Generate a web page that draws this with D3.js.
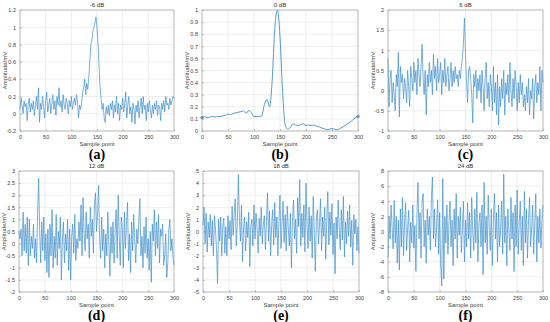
<!DOCTYPE html>
<html>
<head>
<meta charset="utf-8">
<script src="https://cdn.jsdelivr.net/npm/d3@7"></script>
<style>
  body { margin: 0; background: #fff; }
  svg { display: block; }
</style>
</head>
<body>
<script>
// sample points: every 2nd sample for the noisy traces, every 5th for the smooth one
var noisyX = d3.range(0, 301, 2);
var smoothX = d3.range(0, 301, 5);

var xTicks = [0, 50, 100, 150, 200, 250, 300];

// -6 dB
var valsA = [
  0.05,0.18,0.1,0.0,0.15,0.08,0.12,-0.08,0.1,0.18,
  0.02,0.12,0.05,0.15,-0.02,0.1,0.2,0.05,0.3,-0.1,
  0.12,0.05,0.2,0.08,-0.05,0.15,0.25,0.02,0.1,0.18,
  0.0,0.12,0.22,0.05,0.15,-0.02,0.2,0.1,0.3,0.08,
  0.15,0.02,0.22,0.1,0.05,0.18,0.12,0.0,0.15,0.08,
  0.2,0.05,0.12,0.18,0.1,0.22,0.15,-0.05,0.1,0.05,
  0.12,0.25,0.3,0.4,0.22,0.35,0.28,0.42,0.6,0.8,
  0.85,0.95,1.0,1.05,1.12,1.0,0.82,0.55,0.3,0.18,
  0.05,0.12,-0.05,-0.1,0.08,0.0,0.1,-0.02,0.12,0.05,
  0.15,-0.05,0.1,0.02,0.2,0.0,0.12,-0.08,0.1,0.05,
  0.18,0.02,0.12,0.25,-0.05,0.1,0.2,0.0,0.08,-0.1,
  0.12,0.05,-0.12,0.1,0.02,0.15,-0.05,0.08,0.18,0.0,
  0.2,0.05,0.1,-0.08,0.12,0.02,0.15,0.05,-0.05,0.1,
  0.0,0.12,0.05,0.15,-0.02,0.1,0.08,-0.08,0.12,0.05,
  0.15,0.02,0.2,0.1,0.12,0.05,0.18,0.1,0.15,0.2,
  0.18
];
var yTicksA = [-0.2, 0, 0.2, 0.4, 0.6, 0.8, 1, 1.2];

// 0 dB
var valsB = [
  0.11,0.12,0.11,0.115,0.12,0.115,0.12,0.12,0.125,0.13,
  0.14,0.135,0.145,0.15,0.155,0.16,0.165,0.145,0.17,0.15,
  0.12,0.12,0.12,0.125,0.22,0.26,0.2,0.42,0.85,1.0,
  0.78,0.32,0.05,0.015,0.03,0.06,0.05,0.045,0.055,0.06,
  0.045,0.05,0.045,0.05,0.04,0.035,0.025,0.02,0.01,0.015,
  0.02,0.015,0.01,0.02,0.03,0.045,0.06,0.075,0.09,0.11,
  0.12
];
var yTicksB = [0, 0.1, 0.2, 0.3, 0.4, 0.5, 0.6, 0.7, 0.8, 0.9, 1];

// 6 dB
var valsC = [
  0.8,-0.4,0.3,0.5,-0.3,0.2,-0.1,-0.5,0.4,0.1,
  0.95,-0.65,0.6,0.2,0.4,-0.2,0.3,0.1,-0.3,0.5,
  0.1,-0.4,0.6,0.3,0.0,0.7,0.2,0.5,-0.1,0.8,
  0.4,0.1,0.6,1.15,0.3,-0.1,0.5,-0.6,0.4,0.1,
  0.7,0.2,0.5,-0.1,0.9,0.3,0.6,0.0,0.8,0.2,
  0.4,0.7,-0.1,0.5,0.2,0.8,0.1,0.4,0.6,0.0,
  0.3,0.7,0.1,0.5,0.2,0.6,0.3,0.4,0.1,0.5,
  0.3,0.6,0.8,1.2,1.8,0.9,0.2,-0.3,0.5,0.6,
  0.3,-0.1,-0.8,0.4,0.1,0.5,-0.2,0.3,0.0,0.4,
  -0.3,0.5,0.1,-0.5,0.3,0.7,-0.2,0.2,-0.4,0.4,
  0.1,-0.5,0.6,-0.3,0.2,-0.6,0.4,-0.85,0.1,-0.4,
  0.3,-0.2,0.5,-0.6,0.2,-0.1,0.4,-0.3,0.7,0.0,
  -0.4,0.3,-0.2,0.5,0.1,-0.5,0.2,-0.3,0.4,-0.1,
  0.2,-0.4,-0.1,-0.5,0.1,-0.3,0.3,-0.6,0.0,-0.2,
  0.3,-0.7,0.1,0.4,-0.3,0.2,-0.1,0.6,-0.5,0.5,
  0.2
];
var yTicksC = [-1, -0.5, 0, 0.5, 1, 1.5, 2];

// 12 dB
var valsD = [
  0.5,0.2,0.6,-0.5,1.3,-0.3,0.8,-0.4,1.1,-0.9,
  1.0,-0.5,0.3,-0.2,0.8,-0.6,0.2,-0.8,1.2,2.7,
  0.5,-0.8,0.9,-0.3,1.1,-0.7,0.4,-1.2,0.6,-1.4,
  0.8,-0.5,1.4,-1.0,0.3,-0.6,1.2,-0.9,0.5,-0.2,
  1.1,-1.5,0.2,0.9,-0.8,0.4,-0.3,1.0,-1.1,0.6,
  -1.5,0.3,0.8,-0.4,1.2,-0.7,0.2,-0.2,0.9,0.1,
  1.6,-0.5,1.9,0.4,-0.3,1.3,0.2,0.8,-0.6,1.5,
  0.3,1.0,-0.4,1.6,2.1,0.5,1.2,2.4,0.2,-0.6,
  1.1,-0.3,0.6,-1.0,0.4,-0.5,1.3,0.0,-1.35,0.7,
  -0.4,0.9,-0.8,0.5,1.4,-0.6,2.0,0.3,-0.9,1.1,
  0.6,-1.0,1.3,-0.2,0.8,1.7,-0.7,0.4,-1.2,0.9,
  -0.3,1.2,0.2,-0.8,0.6,0.0,1.0,1.85,-0.5,0.3,
  -1.0,0.7,-0.4,1.1,-0.6,0.2,-1.1,0.5,-1.6,0.8,
  0.1,1.4,-0.5,0.9,-0.2,1.2,-0.8,0.6,0.3,0.8,
  -0.9,-0.5,0.4,-1.4,-0.8,0.6,1.0,-0.3,0.2,-0.5,
  -0.9
];
var yTicksD = [-2, -1.5, -1, -0.5, 0, 0.5, 1, 1.5, 2, 2.5, 3];

// 18 dB
var valsE = [
  0.5,2.0,-1.0,1.5,-1.7,0.8,-0.5,1.4,-1.2,0.9,
  -2.0,1.3,0.2,-1.5,-4.3,1.0,-0.8,1.2,-2.0,0.5,
  1.1,-1.8,0.4,-2.0,1.3,-0.6,0.9,-1.5,2.1,-0.3,
  1.4,2.7,-1.2,0.6,4.7,1.0,-0.8,2.2,-2.5,0.3,
  1.2,-1.6,0.8,-0.5,1.6,-2.9,0.4,1.0,-1.2,2.2,
  -0.6,1.5,0.2,-1.8,1.1,-0.4,2.0,-1.0,0.6,1.3,
  -1.5,0.9,3.2,-0.8,1.7,-2.0,0.5,1.8,-1.1,2.4,
  -0.5,1.2,-2.0,0.8,3.0,-1.4,0.6,2.5,-0.9,1.4,
  -1.6,2.1,0.3,-1.2,1.5,-3.0,0.8,2.6,-0.6,1.0,
  -1.8,2.8,0.4,4.3,-1.2,1.5,-0.5,2.2,-1.7,4.0,
  0.6,-1.4,2.0,-0.8,1.3,-2.2,2.9,0.1,-3.3,1.1,
  1.8,-1.0,0.5,2.7,-1.6,1.2,-0.4,2.0,-2.3,0.9,
  3.3,-1.1,1.6,-0.3,2.3,-1.9,0.7,-3.5,1.2,-0.6,
  2.6,0.2,-1.5,1.8,-0.7,2.9,-2.1,0.8,-1.0,1.7,
  -0.4,2.2,-1.3,0.9,-2.8,1.4,-0.2,1.0,-1.6,0.4,
  -1.8
];
var yTicksE = [-5, -4, -3, -2, -1, 0, 1, 2, 3, 4, 5];

// 24 dB
var valsF = [
  -3.5,2.0,-1.0,3.5,0.5,-2.3,4.1,-1.5,2.0,-4.2,
  1.5,-5.1,3.0,-2.0,4.5,-3.2,1.0,3.8,-2.5,0.5,
  2.8,-4.0,1.2,-1.5,3.5,-2.2,0.8,-5.3,2.0,6.5,
  -1.0,2.5,-3.5,4.0,5.0,-2.0,1.5,-4.2,3.0,-0.5,
  2.0,-2.5,4.5,7.2,-1.0,3.0,-2.0,0.5,4.2,-3.0,
  2.5,-4.5,-7.2,7.0,-6.3,2.0,-1.5,3.5,-3.0,1.0,
  4.0,-2.0,1.5,-4.5,3.0,-1.0,5.0,-3.5,2.0,-0.5,
  3.2,-2.8,0.5,4.0,-4.0,1.5,-2.0,3.8,-1.0,2.5,
  -3.5,4.5,0.0,-2.5,3.0,-1.5,5.2,-4.0,1.0,2.5,
  -2.0,3.5,-5.7,6.5,-1.5,2.0,-3.0,4.8,0.5,-2.5,
  3.0,-4.5,1.5,5.0,-1.0,2.5,-4.0,3.5,-2.0,0.5,
  4.0,-3.0,7.6,-1.5,2.0,-4.5,3.0,0.0,-2.5,4.5,
  -1.0,2.5,-5.3,3.5,-2.0,5.5,-3.0,1.0,4.0,-2.5,
  2.0,-4.5,5.3,-1.5,3.0,-3.5,1.5,4.5,-2.0,0.5,
  3.5,-3.0,1.0,5.0,-4.0,2.0,-1.5,3.0,-2.2,1.5,
  3.5
];
var yTicksF = [-8, -6, -4, -2, 0, 2, 4, 6, 8];

var titles = ["-6 dB", "0 dB", "6 dB", "12 dB", "18 dB", "24 dB"];
var letters = ["(a)", "(b)", "(c)", "(d)", "(e)", "(f)"];

var svgWidth = 550;
var svgHeight = 322;

var svg = d3.select("body")
  .append("svg")
  .attr("width", svgWidth)
  .attr("height", svgHeight);

// plot boxes in pixels: left, right, top, bottom
var panels = [
  {xs: noisyX,  ys: valsA, ticks: yTicksA, box: [20, 174, 10, 131]},
  {xs: smoothX, ys: valsB, ticks: yTicksB, box: [202, 358, 10, 131], smooth: true},
  {xs: noisyX,  ys: valsC, ticks: yTicksC, box: [388, 543, 10, 131]},
  {xs: noisyX,  ys: valsD, ticks: yTicksD, box: [19, 174, 171, 292]},
  {xs: noisyX,  ys: valsE, ticks: yTicksE, box: [203, 359, 171, 292]},
  {xs: noisyX,  ys: valsF, ticks: yTicksF, box: [388, 543, 171, 292]}
];

var lineColor = "#3f8fcc";
var fmt = function(v) { return String(+v.toFixed(2)); };

panels.forEach(function(p, k) {
  var left = p.box[0], right = p.box[1], top = p.box[2], bottom = p.box[3];
  var w = right - left, h = bottom - top;

  var x = d3.scaleLinear().domain([0, 300]).range([0, w]);
  var y = d3.scaleLinear()
    .domain([p.ticks[0], p.ticks[p.ticks.length - 1]])
    .range([h, 0]);

  var g = svg.append("g").attr("transform", `translate(${left}, ${top})`);

  // grid
  g.append("g")
    .selectAll("line.vg")
    .data(xTicks)
    .enter()
    .append("line")
    .attr("x1", d => x(d)).attr("x2", d => x(d))
    .attr("y1", 0).attr("y2", h)
    .attr("stroke", "#e3e3e3")
    .attr("stroke-width", 0.6);

  g.append("g")
    .selectAll("line.hg")
    .data(p.ticks)
    .enter()
    .append("line")
    .attr("x1", 0).attr("x2", w)
    .attr("y1", d => y(d)).attr("y2", d => y(d))
    .attr("stroke", "#e3e3e3")
    .attr("stroke-width", 0.6);

  // axes, MATLAB style ticks pointing in
  var xAxis = g.append("g")
    .attr("transform", `translate(0, ${h})`)
    .call(d3.axisBottom(x).tickValues(xTicks).tickSize(-2).tickPadding(4).tickFormat(fmt));

  var yAxis = g.append("g")
    .call(d3.axisLeft(y).tickValues(p.ticks).tickSize(-2).tickPadding(4).tickFormat(fmt));

  [xAxis, yAxis].forEach(function(ax) {
    ax.select(".domain").remove();
    ax.selectAll("line").attr("stroke", "#888").attr("stroke-width", 0.5);
    ax.selectAll("text")
      .attr("font-family", "Liberation Sans, Arial, sans-serif")
      .attr("font-size", "5.5px")
      .attr("fill", "#444");
  });

  // the trace
  var line = d3.line()
    .x((d, i) => x(p.xs[i]))
    .y(d => y(d));
  if (p.smooth) line.curve(d3.curveMonotoneX);

  g.append("path")
    .datum(p.ys)
    .attr("d", line)
    .attr("fill", "none")
    .attr("stroke", lineColor)
    .attr("stroke-width", p.smooth ? 0.9 : 0.7)
    .attr("stroke-linejoin", "round");

  if (p.smooth) {
    g.selectAll("circle.tip")
      .data([0, p.ys.length - 1])
      .enter()
      .append("circle")
      .attr("cx", i => x(p.xs[i]))
      .attr("cy", i => y(p.ys[i]))
      .attr("r", 1.6)
      .attr("fill", lineColor);
  }

  // box
  g.append("rect")
    .attr("width", w)
    .attr("height", h)
    .attr("fill", "none")
    .attr("stroke", "#9a9a9a")
    .attr("stroke-width", 0.6);

  // title
  g.append("text")
    .text(titles[k])
    .attr("x", w / 2)
    .attr("y", -3)
    .attr("text-anchor", "middle")
    .attr("font-family", "Liberation Sans, Arial, sans-serif")
    .attr("font-size", "6px")
    .attr("fill", "#333");

  // axis titles
  g.append("text")
    .text("Sample point")
    .attr("x", w / 2)
    .attr("y", h + 15)
    .attr("text-anchor", "middle")
    .attr("font-family", "Liberation Sans, Arial, sans-serif")
    .attr("font-size", "6px")
    .attr("fill", "#444");

  g.append("text")
    .text("Amplitude/mV")
    .attr("transform", `translate(-13, ${h / 2}) rotate(-90)`)
    .attr("text-anchor", "middle")
    .attr("font-family", "Liberation Sans, Arial, sans-serif")
    .attr("font-size", "6px")
    .attr("fill", "#444");

  // panel letter
  g.append("text")
    .text(letters[k])
    .attr("x", w / 2)
    .attr("y", h + 27.5)
    .attr("text-anchor", "middle")
    .attr("font-family", "Liberation Serif, Times New Roman, serif")
    .attr("font-weight", "bold")
    .attr("font-size", "14px")
    .attr("fill", "#000");
});
</script>
</body>
</html>
